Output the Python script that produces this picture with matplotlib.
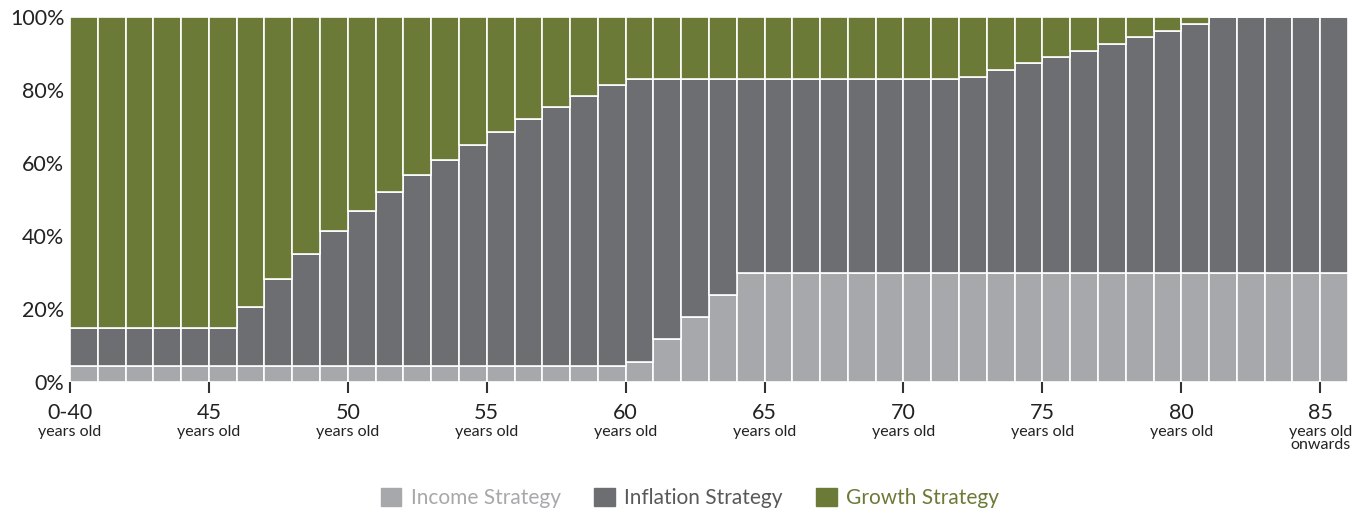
import matplotlib.pyplot as plt
from matplotlib.patches import Patch
import numpy as np

# ---------------------------------
# Data (percent of portfolio by age)
# ---------------------------------
ages = list(range(40, 86))
income = [4.5] * 20 + [5.6, 11.9, 17.9, 23.9] + [29.9] * 22
inflation_top = ([14.8] * 6 + [20.7, 28.4, 35.2, 41.5, 46.9, 52.1, 56.7, 60.8, 64.9,
                 68.6, 72.1, 75.3, 78.4, 81.4] + [83.0] * 12 +
                 [83.7, 85.5, 87.4, 89.1, 90.9, 92.8, 94.5, 96.3, 98.1] + [100.0] * 5)
inflation = [t - i for t, i in zip(inflation_top, income)]
growth = [100 - t for t in inflation_top]

tick_ages = [40, 45, 50, 55, 60, 65, 70, 75, 80, 85]
tick_labels = ["0-40", "45", "50", "55", "60", "65", "70", "75", "80", "85"]
y_ticks = [0, 20, 40, 60, 80, 100]

c_income = "#a7a8ab"
c_inflation = "#6d6e72"
c_growth = "#6c7a38"

plt.rcParams['font.family'] = ['Lato', 'DejaVu Sans']

fig = plt.figure(figsize=(13.53, 5.09), dpi=100)
ax = fig.add_axes([70 / 1353, 1 - 382.3 / 509, 1278 / 1353, 365 / 509])

x = np.arange(len(ages))
kw = dict(width=1.0, align='edge', edgecolor='white', linewidth=1.2)
ax.bar(x, income, color=c_income, **kw)
ax.bar(x, inflation, bottom=income, color=c_inflation, **kw)
ax.bar(x, growth, bottom=inflation_top, color=c_growth, **kw)

ax.set_xlim(0, len(ages))
ax.set_ylim(0, 100)
for s in ax.spines.values():
    s.set_visible(False)

ax.set_yticks(y_ticks)
ax.set_yticklabels([f"{v}%" for v in y_ticks], fontsize=15.5, color="#222222")
ax.tick_params(axis='y', length=0, pad=4)

tick_pos = [a - 40 for a in tick_ages]
ax.set_xticks(tick_pos)
ax.set_xticklabels(tick_labels, fontsize=15.5, color="#222222")
ax.tick_params(axis='x', length=8, width=1.5, color="#333333", pad=7)

for p, a in zip(tick_pos, tick_ages):
    sub = "years old\nonwards" if a == 85 else "years old"
    ax.text(p, -0.116, sub, transform=ax.get_xaxis_transform(), ha='center', va='top',
            fontsize=11.5, color="#222222", linespacing=0.9)

handles = [Patch(color=c_income), Patch(color=c_inflation), Patch(color=c_growth)]
names = ["Income Strategy", "Inflation Strategy", "Growth Strategy"]
leg = fig.legend(handles, names, loc='center', bbox_to_anchor=(690 / 1353, 1 - 498 / 509),
                 ncol=3, frameon=False, fontsize=15, handlelength=1.0, handleheight=1.0,
                 handletextpad=0.45, columnspacing=1.6)
for t, c in zip(leg.get_texts(), [c_income, "#58595b", c_growth]):
    t.set_color(c)

plt.savefig("out.png", dpi=100)
